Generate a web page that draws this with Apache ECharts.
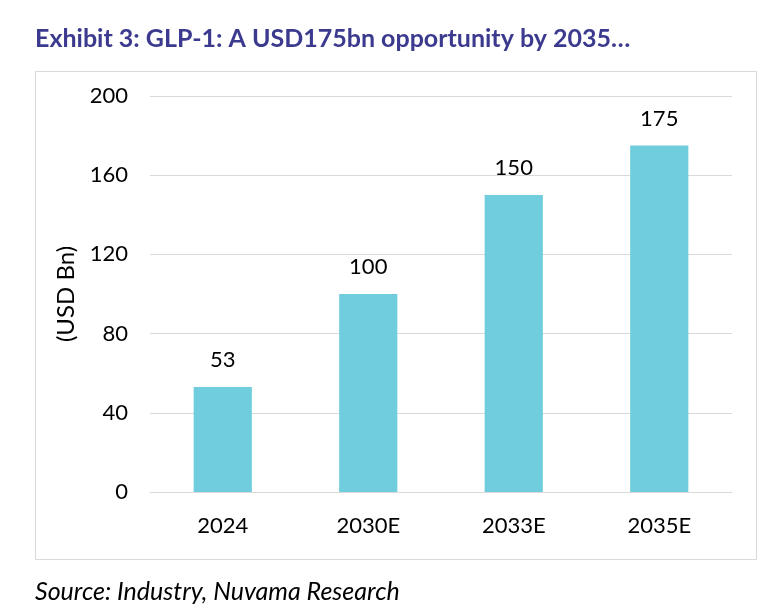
<!DOCTYPE html>
<html><head><meta charset="utf-8">
<script src="https://cdn.jsdelivr.net/npm/echarts@6/dist/echarts.min.js"></script>
<style>html,body{margin:0;padding:0;background:#fff;}#c{width:768px;height:613px;}</style>
</head><body><div id="c"></div>
<script>
const categories = ['2024', '2030E', '2033E', '2035E'];
const values = [53, 100, 150, 175];
const yTicks = [0, 40, 80, 120, 160, 200];

const chart = echarts.init(document.getElementById('c'), null, {renderer: 'canvas'});
chart.setOption({
  animation: false,
  backgroundColor: '#fff',
  graphic: [
    {type: 'text', left: 35, top: 26, style: {text: 'Exhibit 3: GLP-1: A USD175bn opportunity by 2035…', font: 'bold 25px Lato', fill: '#3b3a8f'}},
    {type: 'rect', shape: {x: 35.5, y: 71.5, width: 721, height: 488}, style: {fill: 'none', stroke: '#d9d9d9', lineWidth: 1}, z: -1},
    {type: 'text', left: 35, top: 579, style: {text: 'Source: Industry, Nuvama Research', font: 'italic 25px Lato', fill: '#000'}}
  ],
  grid: {left: 150, right: 36, top: 96, bottom: 121},
  xAxis: {
    type: 'category', data: categories,
    axisLine: {lineStyle: {color: '#d9d9d9'}}, axisTick: {show: false},
    axisLabel: {color: '#000', fontSize: 22, fontFamily: 'Lato', margin: 23}
  },
  yAxis: {
    type: 'value', min: 0, max: 200, interval: 40,
    name: '(USD Bn)', nameLocation: 'middle', nameGap: 72, nameRotate: 90,
    nameTextStyle: {color: '#000', fontSize: 24, fontFamily: 'Lato'},
    axisLine: {show: false}, axisTick: {show: false},
    splitLine: {lineStyle: {color: '#d9d9d9'}},
    axisLabel: {color: '#000', fontSize: 22, fontFamily: 'Lato', margin: 22,
      formatter: v => yTicks.includes(v) ? String(v) : ''}
  },
  series: [{
    type: 'bar', data: values, barWidth: '40%',
    itemStyle: {color: '#70cddd'},
    label: {show: true, position: 'top', distance: 16, color: '#000', fontSize: 22, fontFamily: 'Lato'}
  }]
});
</script></body></html>
